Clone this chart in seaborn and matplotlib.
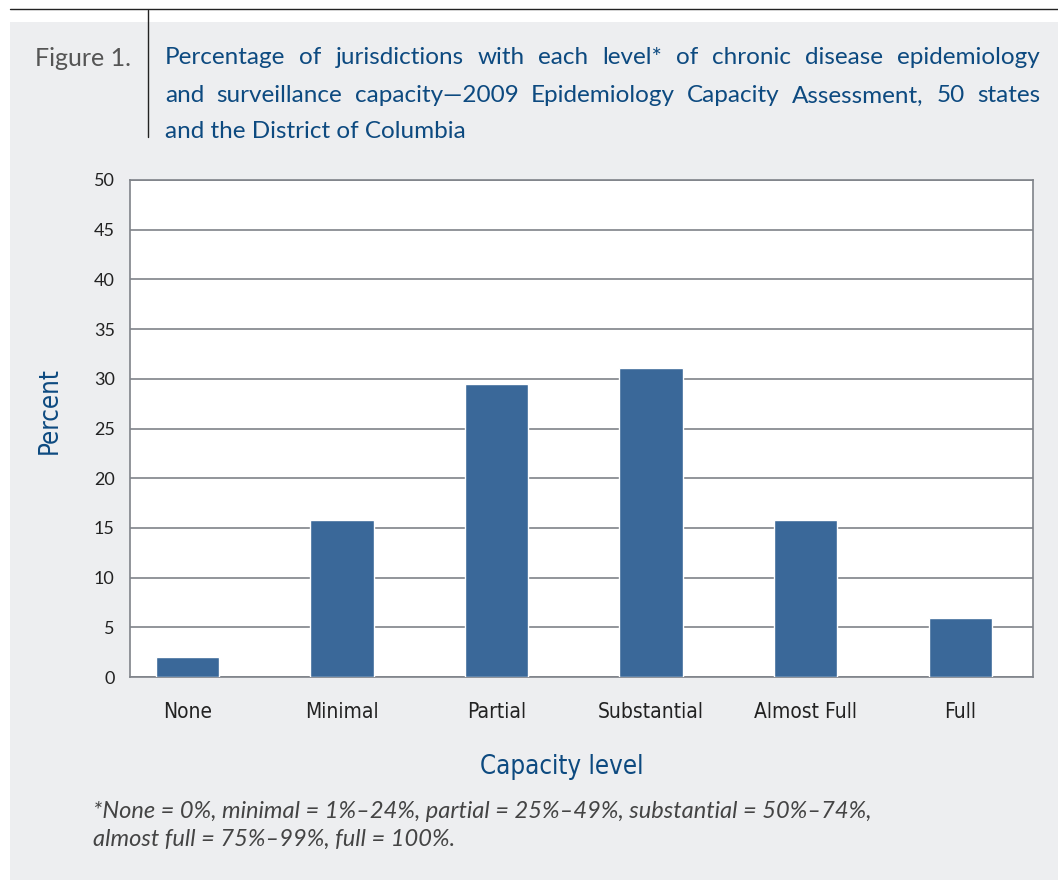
import matplotlib
matplotlib.use('Agg')
import matplotlib.pyplot as plt
import seaborn as sns
import pandas as pd
from matplotlib.patches import Rectangle
from matplotlib.lines import Line2D

# data
levels = ['None', 'Minimal', 'Partial', 'Substantial', 'Almost Full', 'Full']
percent = [2.0, 15.8, 29.5, 31.1, 15.8, 5.9]
y_ticks = [0, 5, 10, 15, 20, 25, 30, 35, 40, 45, 50]

title_lines = [
    'Percentage of jurisdictions with each level* of chronic disease epidemiology',
    'and surveillance capacity\u20142009 Epidemiology Capacity Assessment, 50 states',
    'and the District of Columbia',
]
footnote = ['*None = 0%, minimal = 1%\u201324%, partial = 25%\u201349%, substantial = 50%\u201374%,',
            'almost full = 75%\u201399%, full = 100%.']

df = pd.DataFrame({'level': levels, 'percent': percent})

sns.set_theme(style='white')
plt.rcParams['font.family'] = ['Lato', 'DejaVu Sans']

W, H = 1058, 880
fig = plt.figure(figsize=(W / 100, H / 100), dpi=100)
fig.patch.set_facecolor('white')

panel_bg = '#edeef0'
blue = '#0d4a80'
bar_col = '#3a6899'
grid_col = '#7f8389'
cond = dict(family='DejaVu Sans', fontstretch='condensed')

# grey panel and the rules at the top
fig.add_artist(Rectangle((10 / W, 0), 1 - 10 / W, 1 - 22 / H, transform=fig.transFigure,
                         facecolor=panel_bg, edgecolor='none', zorder=0))
fig.add_artist(Line2D([10 / W, 1], [1 - 9.5 / H, 1 - 9.5 / H], transform=fig.transFigure,
                      color='#222222', lw=1.0))
fig.add_artist(Line2D([148 / W, 148 / W], [1 - 10 / H, 1 - 137 / H], transform=fig.transFigure,
                      color='#222222', lw=1.0))

fig.text(35 / W, 1 - 58 / H, 'Figure 1.', ha='left', va='center', fontsize=18,
         color='#555555')

# title, justified for the first two lines
renderer = fig.canvas.get_renderer()
x0, x1 = 165, 1040
line_y = [58, 96, 132]
tsize = 17.5
for i, line in enumerate(title_lines):
    yy = 1 - line_y[i] / H
    if i == len(title_lines) - 1:
        fig.text(x0 / W, yy, line, ha='left', va='center', fontsize=tsize, color=blue)
        continue
    words = line.split(' ')
    widths = []
    for w in words:
        t = fig.text(0, 0, w, fontsize=tsize)
        widths.append(t.get_window_extent(renderer).width)
        t.remove()
    gap = (x1 - x0 - sum(widths)) / (len(words) - 1)
    xx = x0
    for w, wd in zip(words, widths):
        fig.text(xx / W, yy, w, ha='left', va='center', fontsize=tsize, color=blue)
        xx += wd + gap

# bar chart
ax = fig.add_axes([130 / W, 1 - 677 / H, (1033 - 130) / W, (677 - 180) / H])
sns.barplot(data=df, x='level', y='percent', color=bar_col, saturation=1, width=0.41,
            ax=ax, zorder=3)
ax.set_facecolor('white')
ax.set_ylim(0, 50)
ax.set_xlim(-0.37, 5.47)
ax.set_yticks(y_ticks)
ax.yaxis.grid(True, color=grid_col, lw=1.2, zorder=0)
ax.set_axisbelow(True)
for s in ax.spines.values():
    s.set_color(grid_col)
    s.set_linewidth(1.2)
ax.tick_params(axis='y', length=0, pad=11, labelsize=13, labelcolor='#222222')
ax.tick_params(axis='x', length=0, pad=18, labelcolor='#222222')
for lbl in ax.get_xticklabels():
    lbl.set_family('DejaVu Sans')
    lbl.set_fontstretch('condensed')
    lbl.set_fontsize(15)
ax.set_xlabel('Capacity level', fontsize=18.5, color=blue, labelpad=24, **cond)
ax.set_ylabel('Percent', fontsize=18.5, color=blue, labelpad=20, **cond)
ax.xaxis.set_label_coords(0.478, -0.155)
ax.yaxis.set_label_coords(-0.074, 0.537)

for i, line in enumerate(footnote):
    fig.text(93 / W, 1 - (811 + 28 * i) / H, line, ha='left', va='center', fontsize=17,
             color='#444444', style='italic')

fig.savefig('out.png', dpi=100, facecolor=fig.get_facecolor())
